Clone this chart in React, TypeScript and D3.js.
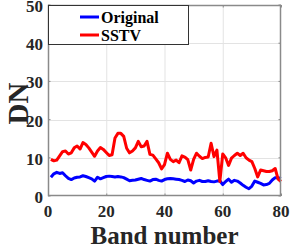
import React, { useEffect, useRef } from 'react';
import * as d3 from 'd3';

// band values (bands 1..80)
const original = [
  4.9, 5.8, 6.2, 5.9, 6.1, 5.3, 4.6, 4.3, 4.7, 4.9,
  5.0, 5.3, 5.1, 4.8, 4.5, 3.9, 4.9, 4.5, 4.8, 5.1,
  5.2, 5.1, 5.0, 5.1, 5.0, 4.8, 4.4, 4.0, 4.1, 4.2,
  4.4, 4.6, 4.3, 4.1, 3.9, 4.3, 4.4, 4.1, 3.9, 4.3,
  4.5, 4.6, 4.5, 4.4, 4.3, 4.1, 3.8, 4.2, 4.0, 3.4,
  3.9, 4.1, 3.8, 3.8, 4.0, 3.8, 3.7, 3.9, 4.0, 3.0,
  3.8, 4.4, 3.6, 4.1, 3.9, 3.4, 2.8, 2.3, 1.9, 2.6,
  3.9, 3.6, 3.3, 2.9, 3.0, 3.3, 4.2, 4.8, 4.8, 4.6,
];
const sstv = [
  9.6, 9.2, 9.4, 10.5, 11.6, 11.8, 11.0, 11.3, 12.6, 13.1,
  12.3, 14.0, 13.5, 12.6, 11.5, 10.4, 11.8, 12.7, 12.2, 11.4,
  10.6, 10.8, 15.2, 16.4, 16.4, 15.6, 12.5, 11.3, 11.8, 12.6,
  14.3, 12.9, 13.1, 14.3, 10.9, 10.7, 9.7, 8.7, 7.1, 8.2,
  11.2, 9.6, 9.0, 9.4, 8.7, 10.5, 10.2, 9.5, 6.8, 9.6,
  11.2, 10.4, 9.8, 10.1, 10.2, 13.8, 10.3, 12.0, 3.8, 11.0,
  10.0, 8.0, 9.9, 10.6, 11.2, 10.6, 11.2, 10.0, 9.4, 9.0,
  7.2, 5.0, 6.8, 6.6, 6.4, 6.4, 6.6, 7.2, 4.4, 3.8,
];
const xTicks = [0, 20, 40, 60, 80];
const yTicks = [0, 10, 20, 30, 40, 50];

const App = () => {
  const ref = useRef<SVGSVGElement>(null);

  useEffect(() => {
    const svg = d3.select(ref.current);
    svg.selectAll('*').remove();

    const left = 48, right = 281, top = 5, bottom = 196;
    const x = d3.scaleLinear().domain([0, 80]).range([left, right]);
    const y = d3.scaleLinear().domain([0, 50]).range([bottom, top]);
    const font = '"Liberation Serif", "Times New Roman", Times, serif';

    svg.append('rect')
      .attr('x', left).attr('y', top)
      .attr('width', right - left).attr('height', bottom - top)
      .attr('fill', '#fff');

    // grid
    const grid = svg.append('g').attr('stroke', '#e3e3e3').attr('stroke-width', 1);
    grid.selectAll('.gx').data(xTicks.slice(1, -1)).enter().append('line')
      .attr('x1', d => x(d) + 0.5).attr('x2', d => x(d) + 0.5)
      .attr('y1', top).attr('y2', bottom);
    grid.selectAll('.gy').data(yTicks.slice(1, -1)).enter().append('line')
      .attr('y1', d => Math.round(y(d)) + 0.5).attr('y2', d => Math.round(y(d)) + 0.5)
      .attr('x1', left).attr('x2', right);

    // lines
    const line = d3.line<number>()
      .x((d, i) => x(i + 1))
      .y(d => y(d));

    svg.append('path').datum(original)
      .attr('d', line).attr('fill', 'none')
      .attr('stroke', '#0000ff').attr('stroke-width', 3)
      .attr('stroke-linejoin', 'round');
    svg.append('path').datum(sstv)
      .attr('d', line).attr('fill', 'none')
      .attr('stroke', '#ff0000').attr('stroke-width', 3)
      .attr('stroke-linejoin', 'round');

    // axes box + ticks
    svg.append('rect')
      .attr('x', left + 0.5).attr('y', top + 0.5)
      .attr('width', right - left - 1).attr('height', bottom - top - 1)
      .attr('fill', 'none').attr('stroke', '#8a8a8a').attr('stroke-width', 1.5);

    const ticks = svg.append('g').attr('stroke', '#8a8a8a').attr('stroke-width', 1);
    ticks.selectAll('.tx').data(xTicks).enter().append('line')
      .attr('x1', d => x(d) + 0.5).attr('x2', d => x(d) + 0.5)
      .attr('y1', bottom).attr('y2', bottom - 2.5);
    ticks.selectAll('.tx2').data(xTicks).enter().append('line')
      .attr('x1', d => x(d) + 0.5).attr('x2', d => x(d) + 0.5)
      .attr('y1', top).attr('y2', top + 2.5);
    ticks.selectAll('.ty').data(yTicks).enter().append('line')
      .attr('y1', d => y(d)).attr('y2', d => y(d))
      .attr('x1', left).attr('x2', left + 2.5);
    ticks.selectAll('.ty2').data(yTicks).enter().append('line')
      .attr('y1', d => y(d)).attr('y2', d => y(d))
      .attr('x1', right).attr('x2', right - 2.5);

    const txt = (sel: any, size: number) =>
      sel.style('font-family', font).style('font-weight', 'bold').style('font-size', `${size}px`);

    txt(svg.selectAll('.xl').data(xTicks).enter().append('text')
      .attr('x', d => x(d)).attr('y', 217)
      .attr('text-anchor', 'middle')
      .attr('fill', '#262626')
      .text(d => d), 17);
    txt(svg.selectAll('.yl').data(yTicks).enter().append('text')
      .attr('x', 43).attr('y', d => y(d) + 7)
      .attr('text-anchor', 'end')
      .attr('fill', '#262626')
      .text(d => d), 17);

    txt(svg.append('text')
      .attr('x', (left + right) / 2).attr('y', 244)
      .attr('text-anchor', 'middle')
      .attr('fill', '#262626')
      .text('Band number'), 25);
    txt(svg.append('text')
      .attr('transform', `translate(28,${(top + bottom) / 2 + 3}) rotate(-90)`)
      .attr('text-anchor', 'middle')
      .attr('fill', '#262626')
      .text('DN'), 29);

    // legend
    const lg = svg.append('g');
    lg.append('rect')
      .attr('x', left + 0.5).attr('y', top + 0.5)
      .attr('width', 140).attr('height', 39)
      .attr('fill', '#fff').attr('stroke', '#333').attr('stroke-width', 1);
    const entries = [
      { name: 'Original', color: '#0000ff' },
      { name: 'SSTV', color: '#ff0000' },
    ];
    entries.forEach((e, i) => {
      const cy = 17 + i * 18;
      lg.append('line')
        .attr('x1', 80).attr('x2', 99).attr('y1', cy).attr('y2', cy)
        .attr('stroke', e.color).attr('stroke-width', 3);
      txt(lg.append('text')
        .attr('x', 101).attr('y', cy + 5.5)
        .attr('fill', '#000')
        .text(e.name), 16);
    });
  }, []);

  return (
    <svg ref={ref} width={291} height={247}
      style={{ position: 'absolute', left: 0, top: 0, background: '#fff' }} />
  );
};

export default App;
